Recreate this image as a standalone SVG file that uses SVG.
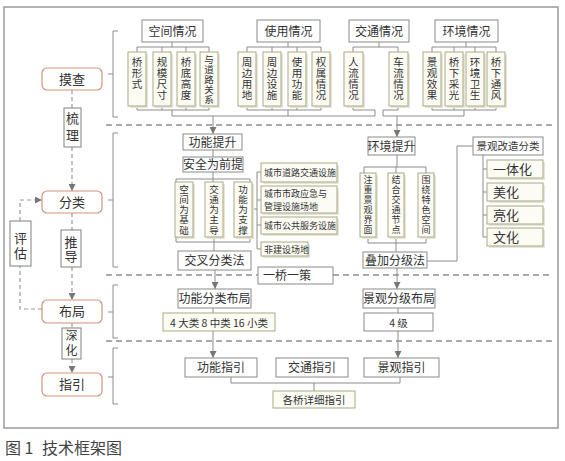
<svg xmlns="http://www.w3.org/2000/svg" width="565" height="461" viewBox="0 0 565 461">
<style>
text{font-family:"Noto Sans CJK SC","Liberation Sans",sans-serif;fill:#333}
.c{text-anchor:middle}
.vt{writing-mode:vertical-rl;text-orientation:upright}
.v4{font-size:10.5px;letter-spacing:0.5px}
.v5t{font-size:9.5px;letter-spacing:0.3px}
.v5{font-size:9.5px;letter-spacing:0.7px}
.v6{font-size:9px;letter-spacing:1px}
.hd{fill:#fff;stroke:#8a8a8a;stroke-width:1}
.sb{fill:#fcfcf4;stroke:#a9a985;stroke-width:1}
.sh{fill:#e6e6d8;stroke:none}
.lb{fill:#fff;stroke:#d3937b;stroke-width:1.2}
.lk{fill:#fff;stroke:#808080;stroke-width:1}
.ln{fill:none;stroke:#8c8c8c;stroke-width:1}
.dl{fill:none;stroke:#999;stroke-width:1.2;stroke-dasharray:4 3}
.sep{fill:none;stroke:#555;stroke-width:1;stroke-dasharray:6 4}
.f9{font-size:9px}.f11{font-size:10.5px}.f12{font-size:12px}.f13{font-size:13px}
</style>
<defs>
<marker id="ar" markerUnits="userSpaceOnUse" markerWidth="7" markerHeight="7" refX="7" refY="3.5" orient="auto"><path d="M0,0 L7,3.5 L0,7 z" fill="#777"/></marker>
</defs>
<rect x="4" y="7" width="554" height="421" fill="#fff" stroke="#9a9a9a" stroke-width="1.5"/>
<g id="separators">
<path class="sep" d="M106,125 H552"/>
<path class="sep" d="M106,275 H258 M333,275 H552"/>
<path class="sep" d="M106,341 H552"/>
</g>
<g id="connectors">
<path class="ln" d="M118,31 H113 V117 H118 M113,74 H108"/>
<path class="ln" d="M118,133 H113 V267 H118 M113,200 H108"/>
<path class="ln" d="M118,285 H113 V338 H118 M113,312 H108"/>
<path class="ln" d="M118,348 H113 V404 H118 M113,377 H108"/>
<path class="ln" d="M172,42 V47 M137,52 V47 H209 V52 M162,47 V52 M186,47 V52"/>
<path class="ln" d="M288,42 V47 M247,52 V47 H321 V52 M272,47 V52 M297,47 V52"/>
<path class="ln" d="M379,42 V47 M353,52 V47 H398 V52"/>
<path class="ln" d="M466,42 V47 M432,52 V47 H496 V52 M454,47 V52 M475,47 V52"/>
<path class="ln" d="M137,106 V110 H209 V106 M162,106 V110 M186,106 V110 M172,110 V116"/>
<path class="ln" d="M247,106 V110 H321 V106 M272,106 V110 M297,106 V110 M288,110 V116"/>
<path class="ln" d="M353,106 V110 H375 V116 M398,106 V110 H383 V116"/>
<path class="ln" d="M432,106 V110 H496 V106 M454,106 V110 M475,106 V110 M464,110 V116"/>
<path class="ln" d="M172,116 H375 M383,116 H464"/>
<path class="ln" d="M213,116 V134" marker-end="url(#ar)"/>
<path class="ln" d="M397,116 V137" marker-end="url(#ar)"/>
<path class="ln" d="M213,150 V157 M213,172 V179 M176,182 V179 H250 V182 M213,179 V182"/>
<path class="ln" d="M176,237 V242 H250 V237 M214,237 V251"/>
<path class="ln" d="M252,209 H257 M257,172 V249 M257,172 H261 M257,200 H261 M257,225 H261 M257,249 H261"/>
<path class="ln" d="M397,155 V167 M364,173 V167 H426 V173 M396,167 V173"/>
<path class="ln" d="M368,237 V243 H426 V237 M396,237 V252"/>
<path class="ln" d="M427,261 H457 V146 H473"/>
<path class="ln" d="M483,155 V237 M483,169 H487 M483,192 H487 M483,215 H487 M483,237 H487"/>
<path class="ln" d="M215,270 V289" marker-end="url(#ar)"/>
<path class="ln" d="M397,268 V289" marker-end="url(#ar)"/>
<path class="ln" d="M213,308 V313 M398,308 V313"/>
<path class="ln" d="M213,331 V358" marker-end="url(#ar)"/>
<path class="ln" d="M398,331 V358" marker-end="url(#ar)"/>
<path class="ln" d="M231,377 V383 H400 V377 M314,383 V391"/>
<path class="dl" d="M72,90 V108 M72,213 V230 M72,323 V328"/>
<path class="dl" d="M72,147 V191" marker-end="url(#ar)"/>
<path class="dl" d="M72,267 V300" marker-end="url(#ar)"/>
<path class="dl" d="M72,359 V373" marker-end="url(#ar)"/>
<path class="dl" d="M42,309 H20 V266"/>
<path class="dl" d="M20,221 V200 H42" marker-end="url(#ar)"/>
</g>
<g id="n-mocha"><rect class="lb" x="42" y="68" width="60" height="22" rx="5"/><text class="c f13" x="72" y="84">摸查</text></g>
<g id="n-shuli"><rect class="lk" x="64" y="108" width="17" height="39"/><text class="vt f13" x="72.5" y="111.5" style="letter-spacing:4px">梳理</text></g>
<g id="n-fenlei"><rect class="lb" x="42" y="191" width="60" height="22" rx="5"/><text class="c f13" x="72" y="207">分类</text></g>
<g id="n-tuidao"><rect class="lk" x="61" y="230" width="20" height="37"/><text class="vt f13" x="71" y="235.5" style="letter-spacing:1.5px">推导</text></g>
<g id="n-pinggu"><rect class="lk" x="10" y="221" width="21" height="45"/><text class="vt f13" x="20.5" y="231.5" style="letter-spacing:2px">评估</text></g>
<g id="n-buju"><rect class="lb" x="42" y="300" width="60" height="23" rx="5"/><text class="c f13" x="72" y="316">布局</text></g>
<g id="n-shenhua"><rect class="lk" x="62" y="328" width="19" height="31"/><text class="vt f12" x="71.5" y="329.5" style="letter-spacing:3px">深化</text></g>
<g id="n-zhiyin"><rect class="lb" x="42" y="373" width="60" height="23" rx="5"/><text class="c f13" x="72" y="389">指引</text></g>

<g id="n-kongjian"><rect class="hd" x="142" y="20" width="61" height="22"/><text class="c f12" x="172.5" y="35.5">空间情况</text></g>
<g id="n-shiyong"><rect class="hd" x="257" y="20" width="63" height="22"/><text class="c f12" x="288.5" y="35.5">使用情况</text></g>
<g id="n-jiaotong"><rect class="hd" x="349" y="20" width="60" height="22"/><text class="c f12" x="379" y="35.5">交通情况</text></g>
<g id="n-huanjing"><rect class="hd" x="435" y="20" width="63" height="22"/><text class="c f12" x="466.5" y="35.5">环境情况</text></g>

<g id="s1"><rect class="sh" x="130" y="54" width="18" height="54"/><rect class="sb" x="128" y="52" width="18" height="54"/><text class="vt v4" x="137" y="56.5">桥形式</text></g>
<g id="s2"><rect class="sh" x="155" y="54" width="18" height="54"/><rect class="sb" x="153" y="52" width="18" height="54"/><text class="vt v4" x="162" y="56.5">规模尺寸</text></g>
<g id="s3"><rect class="sh" x="179" y="54" width="18" height="54"/><rect class="sb" x="177" y="52" width="18" height="54"/><text class="vt v4" x="186" y="56.5">桥底高度</text></g>
<g id="s4"><rect class="sh" x="202" y="54" width="18" height="54"/><rect class="sb" x="200" y="52" width="18" height="54"/><text class="vt v5t" x="209" y="55">与道路关系</text></g>
<g id="s5"><rect class="sh" x="240" y="54" width="18" height="54"/><rect class="sb" x="238" y="52" width="18" height="54"/><text class="vt v4" x="247" y="56.5">周边用地</text></g>
<g id="s6"><rect class="sh" x="265" y="54" width="18" height="54"/><rect class="sb" x="263" y="52" width="18" height="54"/><text class="vt v4" x="272" y="56.5">周边设施</text></g>
<g id="s7"><rect class="sh" x="290" y="54" width="18" height="54"/><rect class="sb" x="288" y="52" width="18" height="54"/><text class="vt v4" x="297" y="56.5">使用功能</text></g>
<g id="s8"><rect class="sh" x="314" y="54" width="18" height="54"/><rect class="sb" x="312" y="52" width="18" height="54"/><text class="vt v4" x="321" y="56.5">权属情况</text></g>
<g id="s9"><rect class="sh" x="346" y="54" width="19" height="54"/><rect class="sb" x="344" y="52" width="19" height="54"/><text class="vt v4" x="353.5" y="56.5">人流情况</text></g>
<g id="s10"><rect class="sh" x="391" y="54" width="19" height="54"/><rect class="sb" x="389" y="52" width="19" height="54"/><text class="vt v4" x="398.5" y="56.5">车流情况</text></g>
<g id="s11"><rect class="sh" x="425" y="54" width="18" height="54"/><rect class="sb" x="423" y="52" width="18" height="54"/><text class="vt v4" x="432" y="56.5">景观效果</text></g>
<g id="s12"><rect class="sh" x="447" y="54" width="18" height="54"/><rect class="sb" x="445" y="52" width="18" height="54"/><text class="vt v4" x="454" y="56.5">桥下采光</text></g>
<g id="s13"><rect class="sh" x="468" y="54" width="18" height="54"/><rect class="sb" x="466" y="52" width="18" height="54"/><text class="vt v4" x="475" y="56.5">环境卫生</text></g>
<g id="s14"><rect class="sh" x="489" y="54" width="18" height="54"/><rect class="sb" x="487" y="52" width="18" height="54"/><text class="vt v4" x="496" y="56.5">桥下通风</text></g>

<g id="n-gongneng"><rect class="hd" x="183" y="134" width="59" height="16"/><text class="c f12" x="212.5" y="146.5">功能提升</text></g>
<g id="n-anquan"><rect class="hd" x="183" y="157" width="60" height="15"/><text class="c f12" x="213" y="169">安全为前提</text></g>
<g id="v1"><rect class="sh" x="177" y="184" width="18" height="55"/><rect class="sb" x="175" y="182" width="18" height="55"/><text class="vt v5" x="184" y="184.5">空间为基础</text></g>
<g id="v2"><rect class="sh" x="207" y="184" width="18" height="55"/><rect class="sb" x="205" y="182" width="18" height="55"/><text class="vt v5" x="214" y="184.5">交通为主导</text></g>
<g id="v3"><rect class="sh" x="236" y="184" width="18" height="55"/><rect class="sb" x="234" y="182" width="18" height="55"/><text class="vt v5" x="243" y="184.5">功能为支撑</text></g>
<g id="n-jiaocha"><rect class="hd" x="178" y="251" width="73" height="19"/><text class="c f12" x="214.5" y="265">交叉分类法</text></g>
<g id="r1"><rect class="sh" x="263" y="165" width="76" height="19"/><rect class="sb" x="261" y="163" width="76" height="19"/><text class="f9" x="264" y="176">城市道路交通设施</text></g>
<g id="r2"><rect class="sh" x="263" y="188" width="76" height="27"/><rect class="sb" x="261" y="186" width="76" height="27"/><text class="f9"><tspan x="264" y="196.8">城市市政应急与</tspan><tspan x="264" y="210.2">管理设施场地</tspan></text></g>
<g id="r3"><rect class="sh" x="263" y="219" width="76" height="17"/><rect class="sb" x="261" y="217" width="76" height="17"/><text class="f9" x="264" y="229">城市公共服务设施</text></g>
<g id="r4"><rect class="sh" x="263" y="244" width="47" height="14"/><rect class="sb" x="261" y="242" width="47" height="14"/><text class="f9" x="264" y="253">非建设场地</text></g>

<g id="n-huanjingts"><rect class="hd" x="368" y="137" width="47" height="18"/><text class="c f12" x="391.5" y="150.5">环境提升</text></g>
<g id="w1"><rect class="sh" x="362" y="175" width="16" height="64"/><rect class="sb" x="360" y="173" width="16" height="64"/><text class="vt v6" x="368" y="175.5">注重景观界面</text></g>
<g id="w2"><rect class="sh" x="390" y="175" width="16" height="64"/><rect class="sb" x="388" y="173" width="16" height="64"/><text class="vt v6" x="396" y="175.5">结合交通节点</text></g>
<g id="w3"><rect class="sh" x="420" y="175" width="16" height="64"/><rect class="sb" x="418" y="173" width="16" height="64"/><text class="vt v6" x="426" y="175.5">围绕特色空间</text></g>
<g id="n-diejia"><rect class="hd" x="363" y="252" width="64" height="16"/><text class="c f12" x="395" y="264.5">叠加分级法</text></g>
<g id="n-jgfl"><rect class="hd" x="473" y="137" width="70" height="18"/><text class="c f11" x="508" y="150">景观改造分类</text></g>
<g id="k1"><rect class="sh" x="489" y="162" width="56" height="18"/><rect class="sb" x="487" y="160" width="56" height="18"/><text class="f13" x="493" y="174">一体化</text></g>
<g id="k2"><rect class="sh" x="489" y="185" width="56" height="18"/><rect class="sb" x="487" y="183" width="56" height="18"/><text class="f13" x="493" y="197">美化</text></g>
<g id="k3"><rect class="sh" x="489" y="208" width="56" height="18"/><rect class="sb" x="487" y="206" width="56" height="18"/><text class="f13" x="493" y="220">亮化</text></g>
<g id="k4"><rect class="sh" x="489" y="230" width="56" height="18"/><rect class="sb" x="487" y="228" width="56" height="18"/><text class="f13" x="493" y="242">文化</text></g>

<g id="n-yiqiao"><rect class="hd" x="258" y="267" width="75" height="17"/><text class="f12" x="263" y="280">一桥一策</text></g>
<g id="n-gnflbj"><rect class="hd" x="178" y="289" width="73" height="19" stroke="#8a8c9c"/><text class="c f12" x="214.5" y="303">功能分类布局</text></g>
<g id="n-4dl"><rect class="sb" x="163" y="313" width="112" height="18"/><text class="c f11" x="219" y="326.5">4 大类 8 中类 16 小类</text></g>
<g id="n-jgfjbj"><rect class="hd" x="363" y="289" width="72" height="19"/><text class="c f12" x="399" y="303">景观分级布局</text></g>
<g id="n-4j"><rect class="hd" x="364" y="313" width="69" height="18"/><text class="c f11" x="398.5" y="326.5">4 级</text></g>
<g id="n-gnzy"><rect class="hd" x="185" y="358" width="72" height="19"/><text class="c f12" x="221" y="372">功能指引</text></g>
<g id="n-jtzy"><rect class="hd" x="276" y="358" width="72" height="19"/><text class="c f12" x="312" y="372">交通指引</text></g>
<g id="n-jgzy"><rect class="hd" x="364" y="358" width="75" height="19"/><text class="c f12" x="401.5" y="372">景观指引</text></g>
<g id="n-gqxx"><rect class="sb" x="273" y="391" width="82" height="17"/><text class="c f11" x="314" y="404">各桥详细指引</text></g>
<text style="font-size:16px;fill:#444"><tspan x="5" y="454">图 1</tspan><tspan x="42" y="454">技术框架图</tspan></text>
</svg>
